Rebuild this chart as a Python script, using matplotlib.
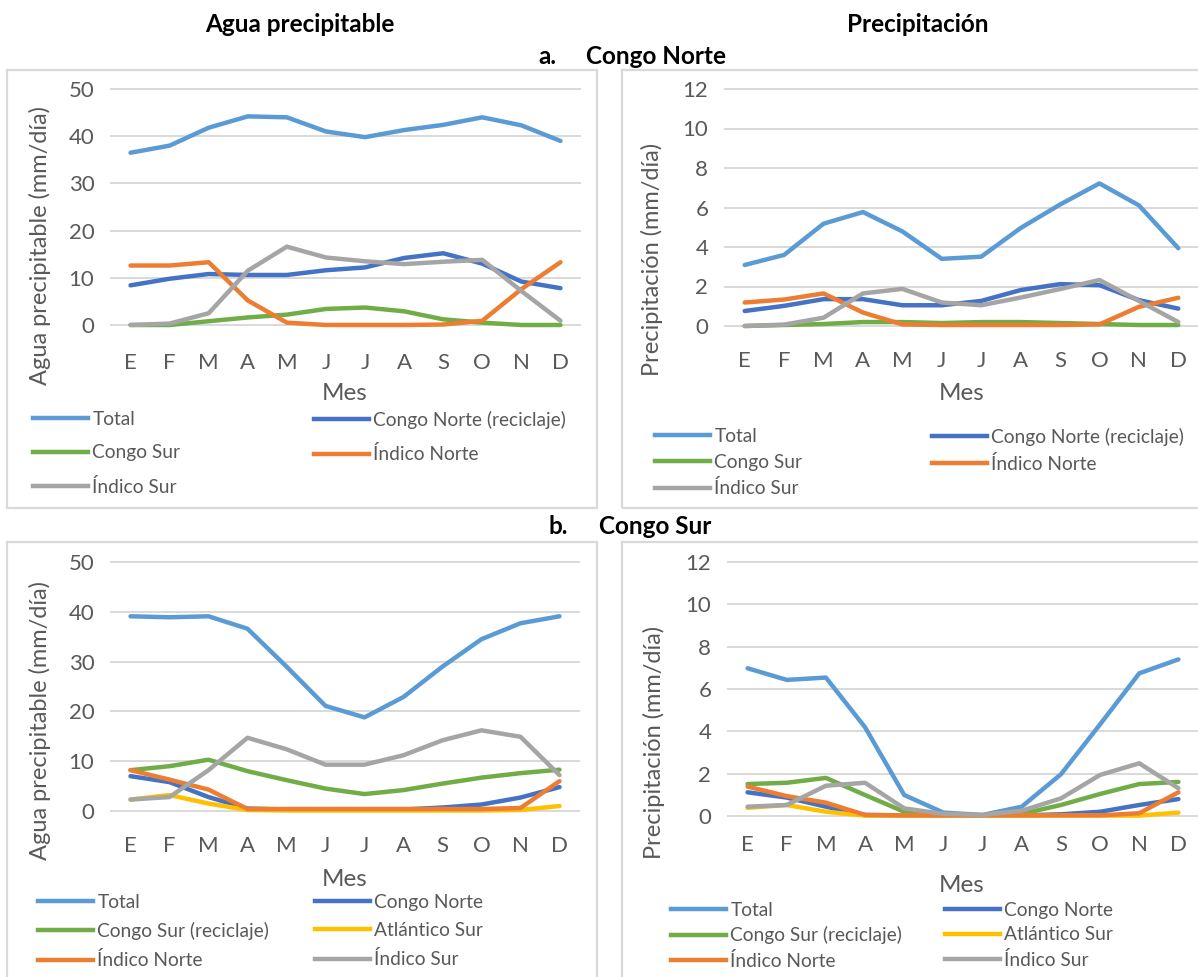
import numpy as np
import matplotlib.pyplot as plt
from matplotlib.lines import Line2D
from matplotlib.patches import Rectangle

plt.rcParams['font.family'] = ['Lato', 'DejaVu Sans']

W, H = 1198, 977

meses = ['E', 'F', 'M', 'A', 'M', 'J', 'J', 'A', 'S', 'O', 'N', 'D']

# a. Congo Norte - agua precipitable (mm/dia)
a_pw_total = [36.5, 38.0, 41.8, 44.2, 44.0, 41.0, 39.8, 41.3, 42.4, 44.0, 42.3, 39.0]
a_pw_congo_norte = [8.4, 9.8, 10.8, 10.6, 10.6, 11.6, 12.2, 14.2, 15.2, 13.0, 9.2, 7.8]
a_pw_congo_sur = [0.0, 0.0, 0.8, 1.6, 2.2, 3.4, 3.7, 2.9, 1.2, 0.5, 0.0, 0.0]
a_pw_indico_norte = [12.6, 12.6, 13.3, 5.2, 0.5, 0.0, 0.0, 0.0, 0.1, 0.9, 7.6, 13.3]
a_pw_indico_sur = [0.0, 0.3, 2.5, 11.5, 16.6, 14.3, 13.5, 12.9, 13.4, 13.8, 7.2, 0.9]

# a. Congo Norte - precipitacion (mm/dia)
a_pr_total = [3.09, 3.6, 5.18, 5.77, 4.79, 3.4, 3.51, 4.96, 6.15, 7.22, 6.11, 3.94]
a_pr_congo_norte = [0.76, 1.02, 1.36, 1.36, 1.05, 1.05, 1.27, 1.82, 2.12, 2.07, 1.31, 0.88]
a_pr_congo_sur = [0.0, 0.05, 0.1, 0.2, 0.2, 0.15, 0.2, 0.2, 0.15, 0.1, 0.05, 0.05]
a_pr_indico_norte = [1.19, 1.34, 1.65, 0.68, 0.08, 0.05, 0.05, 0.05, 0.05, 0.08, 0.97, 1.43]
a_pr_indico_sur = [0.0, 0.07, 0.42, 1.65, 1.88, 1.19, 1.05, 1.44, 1.87, 2.33, 1.27, 0.2]

# b. Congo Sur - agua precipitable (mm/dia)
b_pw_total = [39.1, 38.9, 39.1, 36.6, 29.0, 21.1, 18.8, 22.9, 29.0, 34.5, 37.7, 39.1]
b_pw_congo_norte = [7.0, 5.8, 2.8, 0.5, 0.3, 0.3, 0.3, 0.3, 0.7, 1.3, 2.7, 4.8]
b_pw_congo_sur = [8.2, 9.0, 10.3, 8.0, 6.2, 4.5, 3.4, 4.2, 5.5, 6.7, 7.6, 8.3]
b_pw_atlantico_sur = [2.3, 3.2, 1.5, 0.2, 0.1, 0.1, 0.1, 0.1, 0.1, 0.1, 0.2, 1.0]
b_pw_indico_norte = [8.2, 6.3, 4.3, 0.4, 0.4, 0.4, 0.4, 0.4, 0.4, 0.4, 0.6, 6.0]
b_pw_indico_sur = [2.3, 2.8, 8.2, 14.7, 12.4, 9.3, 9.3, 11.2, 14.2, 16.2, 14.9, 7.2]

# b. Congo Sur - precipitacion (mm/dia)
b_pr_total = [6.98, 6.43, 6.54, 4.19, 0.99, 0.16, 0.05, 0.44, 1.97, 4.33, 6.74, 7.4]
b_pr_congo_norte = [1.12, 0.87, 0.44, 0.05, 0.03, 0.02, 0.02, 0.03, 0.08, 0.2, 0.52, 0.8]
b_pr_congo_sur = [1.51, 1.57, 1.8, 0.99, 0.2, 0.05, 0.03, 0.1, 0.52, 1.04, 1.51, 1.61]
b_pr_atlantico_sur = [0.39, 0.52, 0.2, 0.02, 0.02, 0.02, 0.02, 0.02, 0.02, 0.02, 0.02, 0.16]
b_pr_indico_norte = [1.39, 0.94, 0.63, 0.05, 0.03, 0.03, 0.03, 0.03, 0.03, 0.03, 0.13, 1.12]
b_pr_indico_sur = [0.44, 0.52, 1.43, 1.57, 0.36, 0.1, 0.05, 0.25, 0.83, 1.94, 2.49, 1.31]

c_total = '#5B9BD5'
c_cn = '#4472C4'
c_cs = '#70AD47'
c_in = '#ED7D31'
c_is = '#A5A5A5'
c_as = '#FFC000'
gris = '#595959'
grid_c = '#D9D9D9'

fig = plt.figure(figsize=(W / 100, H / 100), dpi=100)


def px_axes(x0, x1, y0, y1):
    return fig.add_axes([x0 / W, 1 - y1 / H, (x1 - x0) / W, (y1 - y0) / H])


def panel(rect, series, ymax, ystep, ylabel, ylab_xy, mes_xy, xpad, leg):
    x0, x1, y0, y1 = rect
    ax = px_axes(x0, x1, y0, y1)
    x = np.arange(len(meses))
    for v in np.arange(0, ymax + ystep / 2, ystep):
        ax.axhline(v, color=grid_c, lw=1.4, zorder=0, clip_on=False)
    for lab, vals, col in series:
        ax.plot(x, vals, color=col, lw=3.2, label=lab, clip_on=False,
                solid_joinstyle='round', solid_capstyle='round')
    ax.set_xlim(-0.5, len(meses) - 0.5)
    ax.set_ylim(0, ymax)
    ax.set_yticks(np.arange(0, ymax + ystep / 2, ystep))
    ax.set_xticks(x)
    ax.set_xticklabels(meses)
    for s in ax.spines.values():
        s.set_visible(False)
    ax.tick_params(axis='both', length=0, labelsize=16, colors=gris)
    ax.tick_params(axis='y', pad=12)
    ax.tick_params(axis='x', pad=xpad)
    ax.patch.set_alpha(0)
    # axis titles placed by pixel position
    ax.set_xlabel('Mes', fontsize=17.5, color=gris, va='center')
    ax.xaxis.set_label_coords((mes_xy[0] - x0) / (x1 - x0), (y1 - mes_xy[1]) / (y1 - y0))
    ax.set_ylabel(ylabel, fontsize=17, color=gris, va='center', ha='center')
    ax.yaxis.set_label_coords((ylab_xy[0] - x0) / (x1 - x0), (y1 - ylab_xy[1]) / (y1 - y0))
    # legend, Excel style (row-wise, two columns)
    handles = [Line2D([], [], color=c, lw=3.2) for _, _, c in series]
    labels = [s[0] for s in series]
    (cx1, cx2, ytop, lspace) = leg
    for k, cx in ((0, cx1), (1, cx2)):
        fig.legend(handles[k::2], labels[k::2], loc='upper left',
                   bbox_to_anchor=(cx / W, 1 - ytop / H), frameon=False,
                   fontsize=13.8, handlelength=2.85, handletextpad=0.25,
                   labelspacing=lspace, borderpad=0, borderaxespad=0,
                   labelcolor=gris)
    return ax


# frames around each chart
for (fx0, fy0, fx1, fy1) in [(7, 70, 597, 508), (622, 70, 1205, 508),
                             (7, 542, 597, 985), (622, 542, 1205, 985)]:
    fig.patches.append(Rectangle((fx0 / W, 1 - fy1 / H), (fx1 - fx0) / W, (fy1 - fy0) / H,
                                 transform=fig.transFigure, fill=False,
                                 edgecolor=grid_c, lw=1.6))

panel((111, 580, 89, 325),
      [('Total', a_pw_total, c_total),
       ('Congo Norte (reciclaje)', a_pw_congo_norte, c_cn),
       ('Congo Sur', a_pw_congo_sur, c_cs),
       ('Índico Norte', a_pw_indico_norte, c_in),
       ('Índico Sur', a_pw_indico_sur, c_is)],
      50, 10, 'Agua precipitable (mm/día)', (40, 246), (345, 394), 20,
      (33, 314, 411, 0.85))

panel((725, 1198, 89, 326),
      [('Total', a_pr_total, c_total),
       ('Congo Norte (reciclaje)', a_pr_congo_norte, c_cn),
       ('Congo Sur', a_pr_congo_sur, c_cs),
       ('Índico Norte', a_pr_indico_norte, c_in),
       ('Índico Sur', a_pr_indico_sur, c_is)],
      12, 2, 'Precipitación (mm/día)', (652, 259), (962, 394), 18,
      (655, 932, 428, 0.45))

panel((111, 579, 562, 811),
      [('Total', b_pw_total, c_total),
       ('Congo Norte', b_pw_congo_norte, c_cn),
       ('Congo Sur (reciclaje)', b_pw_congo_sur, c_cs),
       ('Atlántico Sur', b_pw_atlantico_sur, c_as),
       ('Índico Norte', b_pw_indico_norte, c_in),
       ('Índico Sur', b_pw_indico_sur, c_is)],
      50, 10, 'Agua precipitable (mm/día)', (40, 720), (345, 880), 18,
      (38, 315, 894, 0.58))

panel((728, 1198, 562, 816),
      [('Total', b_pr_total, c_total),
       ('Congo Norte', b_pr_congo_norte, c_cn),
       ('Congo Sur (reciclaje)', b_pr_congo_sur, c_cs),
       ('Atlántico Sur', b_pr_atlantico_sur, c_as),
       ('Índico Norte', b_pr_indico_norte, c_in),
       ('Índico Sur', b_pr_indico_sur, c_is)],
      12, 2, 'Precipitación (mm/día)', (654, 742), (962, 886), 14,
      (671, 945, 902, 0.38))

# column and section titles
tf = dict(fontsize=17.5, fontweight='bold', va='center')
fig.text(300 / W, 1 - 24 / H, 'Agua precipitable', ha='center', **tf)
fig.text(918 / W, 1 - 24 / H, 'Precipitación', ha='center', **tf)
fig.text(538 / W, 1 - 56 / H, 'a.', ha='left', **tf)
fig.text(586 / W, 1 - 56 / H, 'Congo Norte', ha='left', **tf)
fig.text(549 / W, 1 - 527 / H, 'b.', ha='left', **tf)
fig.text(599 / W, 1 - 527 / H, 'Congo Sur', ha='left', **tf)

fig.savefig('out.png', dpi=100)
